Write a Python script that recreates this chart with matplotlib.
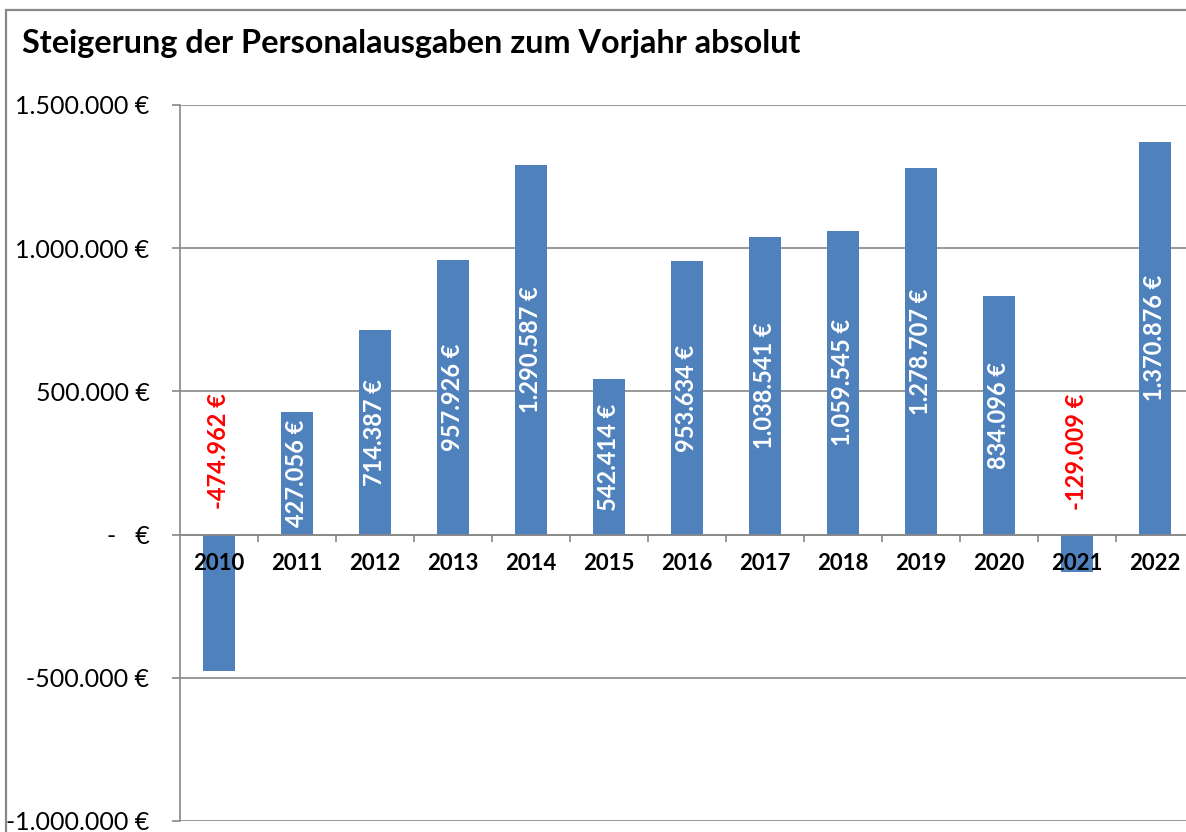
import matplotlib.pyplot as plt
from matplotlib.patches import Rectangle
from matplotlib.ticker import FixedLocator

plt.rcParams['font.family'] = ['Lato', 'DejaVu Sans']

# Steigerung der Personalausgaben zum Vorjahr absolut
years = ['2010', '2011', '2012', '2013', '2014', '2015', '2016',
         '2017', '2018', '2019', '2020', '2021', '2022']
values = [-474962, 427056, 714387, 957926, 1290587, 542414, 953634,
          1038541, 1059545, 1278707, 834096, -129009, 1370876]
yticks = [-1000000, -500000, 0, 500000, 1000000, 1500000]
ytick_labels = ['-1.000.000 €', '-500.000 €', '-   €', '500.000 €',
                '1.000.000 €', '1.500.000 €']

bar_color = '#4F81BD'
grid_color = '#888888'


def eur(v):
    return '{:,}'.format(v).replace(',', '.') + ' €'


fig = plt.figure(figsize=(11.86, 8.32), dpi=100)
ax = fig.add_axes([180 / 1186, 11 / 832, 1014 / 1186, 716 / 832])

x = list(range(len(years)))
ax.bar(x, values, width=0.4, color=bar_color, zorder=1)

for yt in yticks:
    ax.axhline(yt, color=grid_color, lw=1.2, zorder=0.5)

for xi, v in zip(x, values):
    if v >= 0:
        ax.text(xi, v / 2, eur(v), rotation=90, ha='center', va='center',
                color='white', fontsize=17, fontweight='bold', zorder=3)
    else:
        ax.text(xi, 290000, eur(v), rotation=90, ha='center', va='center',
                color='#FF0000', fontsize=17, fontweight='bold', zorder=3)

ax.set_xlim(-0.5, len(years) - 0.5)
ax.set_ylim(-1000000, 1500000)

ax.set_yticks(yticks)
ax.set_yticklabels(ytick_labels)
ax.tick_params(axis='y', length=6, width=1.2, color=grid_color, pad=16,
               labelsize=18)

for s in ['top', 'right']:
    ax.spines[s].set_visible(False)
ax.spines['left'].set_color(grid_color)
ax.spines['left'].set_linewidth(1.2)
ax.spines['bottom'].set_position(('data', 0))
ax.spines['bottom'].set_color(grid_color)
ax.spines['bottom'].set_linewidth(1.2)

ax.set_xticks(x)
ax.set_xticklabels(years, fontweight='bold')
ax.xaxis.set_minor_locator(FixedLocator([i + 0.5 for i in x]))
ax.tick_params(axis='x', which='major', length=0, pad=13, labelsize=16)
ax.tick_params(axis='x', which='minor', length=5, width=1.2, color=grid_color)
ax.xaxis.set_zorder(2.5)

fig.text(22 / 1186, 1 - 43 / 832, 'Steigerung der Personalausgaben zum Vorjahr absolut',
         ha='left', va='center', fontsize=23.3, fontweight='bold')

fig.patches.append(Rectangle((6 / 1186, -0.1), 2, 1.1 - 10 / 832, fill=False,
                             edgecolor=grid_color, lw=1.6,
                             transform=fig.transFigure, figure=fig))

fig.savefig('out.png', dpi=100)
